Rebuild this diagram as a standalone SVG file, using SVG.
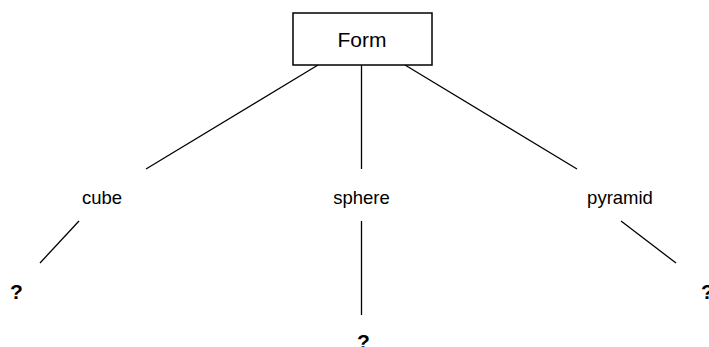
<svg xmlns="http://www.w3.org/2000/svg" width="709" height="347" viewBox="0 0 709 347">
  <style>
    .edge { stroke: #000; stroke-width: 1.3; fill: none; }
    .box { fill: #fff; stroke: #000; stroke-width: 1.5; }
    .title { font-family: "Liberation Sans", Arial, sans-serif; font-size: 21px; fill: #000; text-anchor: middle; }
    .label { font-family: "Liberation Sans", Arial, sans-serif; font-size: 18.5px; fill: #000; text-anchor: middle; }
    .unknown { font-family: "Liberation Sans", Arial, sans-serif; font-size: 21px; font-weight: bold; fill: #000; text-anchor: middle; }
  </style>
  <rect width="709" height="347" fill="#fff"/>

  <!-- tree edges -->
  <g id="connectors">
    <line class="edge" x1="318" y1="65" x2="146" y2="169"/>
    <line class="edge" x1="361.5" y1="65" x2="361.5" y2="169"/>
    <line class="edge" x1="405" y1="65" x2="577" y2="169"/>
    <line class="edge" x1="79" y1="221" x2="40" y2="263"/>
    <line class="edge" x1="361.5" y1="221" x2="361.5" y2="315"/>
    <line class="edge" x1="621" y1="221" x2="676" y2="263"/>
  </g>

  <!-- root -->
  <g id="node-form">
    <rect class="box" x="293" y="13" width="139" height="52"/>
    <text class="title" x="362" y="47">Form</text>
  </g>

  <!-- first level -->
  <g id="node-cube">
    <text class="label" x="102" y="204">cube</text>
  </g>
  <g id="node-sphere">
    <text class="label" x="361.5" y="204">sphere</text>
  </g>
  <g id="node-pyramid">
    <text class="label" x="620" y="204">pyramid</text>
  </g>

  <!-- leaves -->
  <g id="node-cube-leaf">
    <text class="unknown" x="16.5" y="299">?</text>
  </g>
  <g id="node-sphere-leaf">
    <text class="unknown" x="363.5" y="349">?</text>
  </g>
  <g id="node-pyramid-leaf">
    <text class="unknown" x="707.5" y="299">?</text>
  </g>
</svg>
